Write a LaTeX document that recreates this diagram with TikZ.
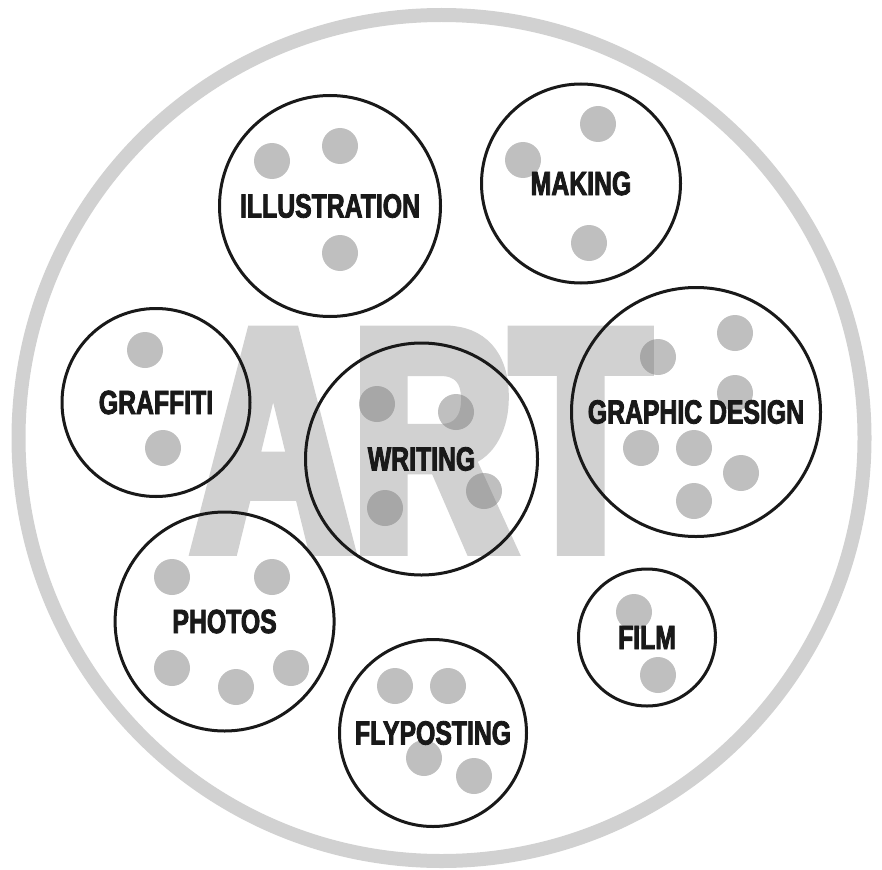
\documentclass[tikz,border=0pt]{standalone}
\usepackage{fontspec}
\usepackage{tikz}
\newfontfamily\labelfont[FakeStretch=0.74,FakeBold=2.5]{Liberation Sans}
\newfontfamily\artfont[FakeStretch=0.71,FakeBold=5]{Liberation Sans}
\colorlet{ringgrey}{black!18}
\colorlet{dotgrey}{black!53}
\tikzset{
  subject/.style={circle, draw=black!90, line width=3pt, inner sep=0pt, text=black!90,
    font=\labelfont\bfseries\fontsize{33.5}{36}\selectfont},
  blob/.style={fill=dotgrey, fill opacity=0.47},
}

\begin{document}
\begin{tikzpicture}[x=1pt, y=-1pt]
    \useasboundingbox (0,0) rectangle (882,869);
    % ring and the big word behind everything
    \draw[ringgrey, line width=14pt] (441.5,438) circle[radius=423];
    \node[anchor=base west, inner sep=0pt, text=ringgrey,
      font=\artfont\bfseries\fontsize{312}{312}\selectfont] (art) at (193,548) {ART};

    % grey dots
    \foreach \x/\y in {272/161, 340/146, 340/253,
                       598/124, 523/160, 589/243,
                       145/350, 163/448,
                       377/404, 456/412, 385/508, 484/491,
                       735/333, 658/357, 735/393, 641/448, 694/448, 741/473, 694/501,
                       172/577, 272/577, 172/668, 236/687, 291/668,
                       634/612, 658/675,
                       395/686, 448/686, 424/758, 474/776}
      \fill[blob] (\x,\y) circle[radius=18];

    % the subjects
    \node[subject, minimum size=221pt] (illustration) at (330,206) {ILLUSTRATION};
    \node[subject, minimum size=199pt] (making) at (581,183.5) {MAKING};
    \node[subject, minimum size=188pt] (graffiti) at (156,402.5) {GRAFFITI};
    \node[subject, minimum size=232pt] (writing) at (421.5,459) {WRITING};
    \node[subject, minimum size=249pt] (graphic) at (696,412) {GRAPHIC DESIGN};
    \node[subject, minimum size=219pt] (photos) at (224.6,621.5) {PHOTOS};
    \node[subject, minimum size=137pt] (film) at (647,637.5) {FILM};
    \node[subject, minimum size=187pt] (flyposting) at (433,733) {FLYPOSTING};
\end{tikzpicture}
\end{document}
